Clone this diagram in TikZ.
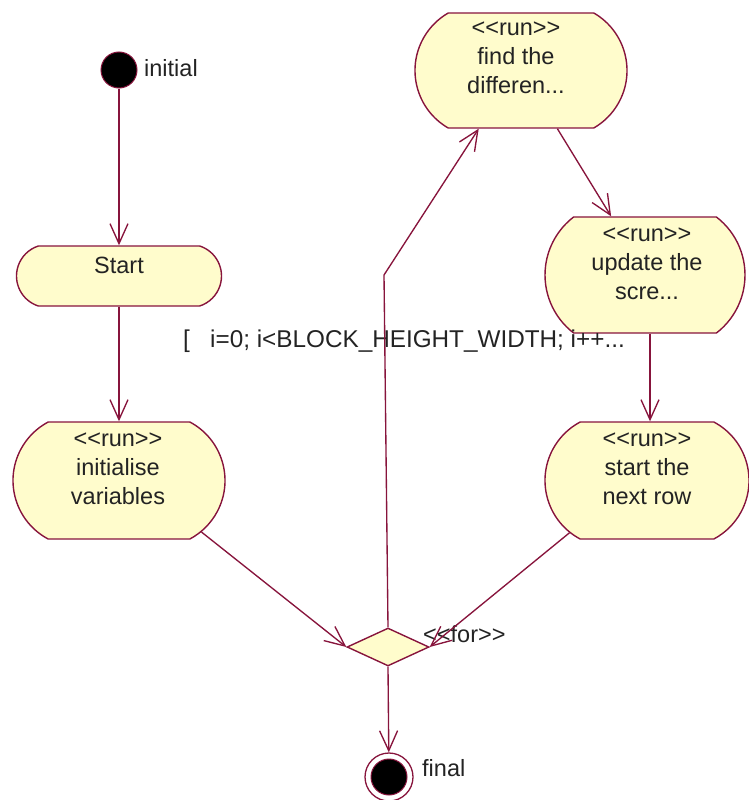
\documentclass[tikz,border=0pt]{standalone}
\usepackage{fontspec}
\setmainfont{Liberation Sans}[Ligatures=TeXOff]
\usetikzlibrary{shapes.misc,shapes.geometric,arrows.meta}
\definecolor{umlline}{RGB}{135,20,60}
\definecolor{umlfill}{RGB}{255,252,204}
\definecolor{umltext}{RGB}{35,35,35}
\begin{document}
\begin{tikzpicture}[x=1pt,y=-1pt,
  every node/.style={font=\fontsize{23.5}{29}\selectfont, text=umltext},
  activity/.style={rounded rectangle, rounded rectangle arc length=120,
    draw=umlline, fill=umlfill, line width=1.4pt, inner sep=0pt},
  decision/.style={diamond, draw=umlline, fill=umlfill, line width=1.4pt,
    minimum width=82pt, minimum height=38pt, inner sep=0pt, aspect=2.16},
  txt/.style={inner sep=0pt, align=center},
  flow/.style={draw=umlline, line width=1.35pt,
    -{Straight Barb[length=20pt,width=18pt]}}]
\useasboundingbox (0,0) rectangle (748,800);

% initial and final pseudo-states
\node[circle, fill=black, draw=umlline, line width=1pt, minimum size=36pt,
  inner sep=0pt] (ini) at (119,70) {};
\node[txt, anchor=base west] (ini-l) at (144,76) {initial};

\node[circle, fill=white, draw=umlline, line width=1.3pt, minimum size=48pt,
  inner sep=0pt] (fin) at (389,777) {};
\node[circle, fill=black, draw=umlline, line width=1pt, minimum size=36pt,
  inner sep=0pt] (fin-c) at (389,777) {};
\node[txt, anchor=base west] (fin-l) at (422,776) {final};

% activity states
\node[activity, rounded rectangle arc length=144, minimum width=205pt,
  minimum height=60pt] (start) at (119,276) {};
\node[txt] (start-t) at (119,265) {Start};

\node[activity, rounded rectangle arc length=124, minimum width=212pt,
  minimum height=117pt] (init) at (119,480.5) {};
\node[txt] (init-t) at (118,469) {<<run>>\\initialise\\variables};

\node[activity, rounded rectangle arc length=120, minimum width=212pt,
  minimum height=115pt] (find) at (521,70.5) {};
\node[txt] (find-t) at (516,58) {<<run>>\\find the\\differen...};

\node[activity, rounded rectangle arc length=105, minimum width=200pt,
  minimum height=116pt] (update) at (645,275) {};
\node[txt] (update-t) at (647,264) {<<run>>\\update the\\scre...};

\node[activity, rounded rectangle arc length=124, minimum width=204pt,
  minimum height=117pt] (next) at (647,480.5) {};
\node[txt] (next-t) at (647,469) {<<run>>\\start the\\next row};

% loop decision
\node[decision] (dia) at (388,647) {};
\node[txt, anchor=base west] (dia-l) at (423,642) {<<for>>};

% guard of the loop
\node[txt, anchor=base west, font=\fontsize{24.3}{29}\selectfont] (guard)
  at (183,347) {[~~~i=0; i<BLOCK\_HEIGHT\_WIDTH; i++...};

% transitions
\draw[flow] (ini) -- (start);
\draw[flow] (start) -- (init);
\draw[flow] (init.-32) -- (dia.west);
\draw[flow] (next.-146) -- (dia.east);
\draw[flow] (dia.south) -- (fin);
\coordinate (bend) at (384,275);
\draw[flow] (dia.north) -- (bend) -- (find.-126.5);
\draw[flow] (find.-58) -- (update.120);
\draw[flow] ([xshift=5pt]update.south) -- ([xshift=3pt]next.north);
\end{tikzpicture}
\end{document}
